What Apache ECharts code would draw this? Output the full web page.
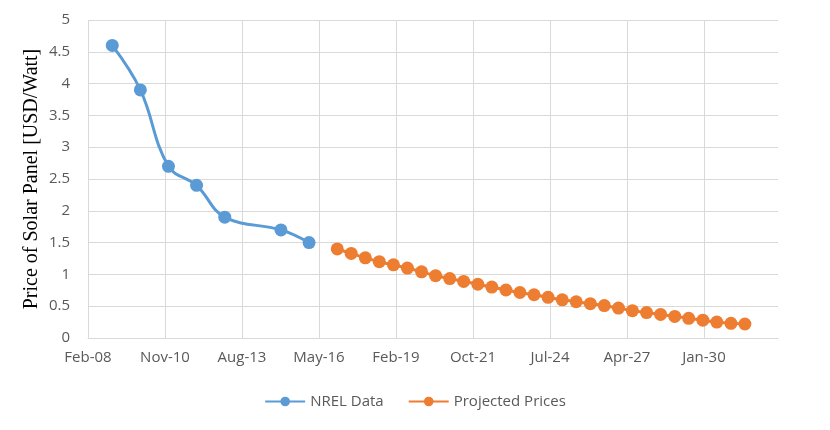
<!DOCTYPE html>
<html>
<head>
<meta charset="utf-8">
<script src="https://cdn.jsdelivr.net/npm/echarts@6/dist/echarts.min.js"></script>
<style>html,body{margin:0;padding:0;background:#fff}#c{width:830px;height:430px}</style>
</head>
<body>
<div id="c"></div>
<script>
// Axis origin (Excel-style date axis starting 21 Feb 2008, major unit 1000 days)
const axisStart = '2008-02-21';
const axisSpanDays = 8961;
const axisStepDays = 1000;

const nrelDates = ['2009-01-01','2010-01-01','2011-01-01','2012-01-01','2013-01-01','2015-01-01','2016-01-01'];
const nrelValues = [4.6, 3.9, 2.7, 2.4, 1.9, 1.7, 1.5];

const projDates = [
  '2017-01-01','2017-07-01','2018-01-01','2018-07-01','2019-01-01','2019-07-01',
  '2020-01-01','2020-07-01','2021-01-01','2021-07-01','2022-01-01','2022-07-01',
  '2023-01-01','2023-07-01','2024-01-01','2024-07-01','2025-01-01','2025-07-01',
  '2026-01-01','2026-07-01','2027-01-01','2027-07-01','2028-01-01','2028-07-01',
  '2029-01-01','2029-07-01','2030-01-01','2030-07-01','2031-01-01','2031-07-01'
];
const projValues = [
  1.40, 1.33, 1.26, 1.20, 1.15, 1.10,
  1.04, 0.98, 0.935, 0.89, 0.845, 0.80,
  0.755, 0.715, 0.68, 0.64, 0.60, 0.57,
  0.54, 0.51, 0.47, 0.43, 0.40, 0.37,
  0.34, 0.31, 0.28, 0.25, 0.23, 0.22
];

const yTicks = {min: 0, max: 5, step: 0.5};
const months = ['Jan','Feb','Mar','Apr','May','Jun','Jul','Aug','Sep','Oct','Nov','Dec'];

const DAY = 86400000;
const base = Date.parse(axisStart + 'T00:00:00Z');
const toDays = s => Math.round((Date.parse(s + 'T00:00:00Z') - base) / DAY);
const fmt = v => {
  const d = new Date(base + v * DAY);
  return months[d.getUTCMonth()] + '-' + String(d.getUTCFullYear() % 100).padStart(2, '0');
};

const chart = echarts.init(document.getElementById('c'), null, {renderer: 'canvas'});
const grey = '#595959';
const gridCol = '#D9D9D9';
chart.setOption({
  animation: false,
  backgroundColor: '#fff',
  grid: {left: 88, right: 52, top: 20, bottom: 92},
  xAxis: {
    type: 'value',
    min: 0, max: axisSpanDays, interval: axisStepDays,
    axisLine: {show: true, lineStyle: {color: gridCol, width: 1}},
    axisTick: {show: false},
    splitLine: {show: true, showMaxLine: false, lineStyle: {color: gridCol, width: 1}},
    axisLabel: {formatter: fmt, showMaxLabel: false, color: grey, fontFamily: 'Open Sans', fontSize: 15, margin: 12}
  },
  yAxis: {
    type: 'value',
    min: yTicks.min, max: yTicks.max, interval: yTicks.step,
    name: 'Price of Solar Panel [USD/Watt]',
    nameLocation: 'middle',
    nameGap: 46,
    nameMoveOverlap: false,
    nameTextStyle: {fontFamily: 'Liberation Serif', fontSize: 20, color: '#000'},
    axisLine: {show: false},
    axisTick: {show: false},
    splitLine: {show: true, lineStyle: {color: gridCol, width: 1}},
    axisLabel: {color: grey, fontFamily: 'Open Sans', fontSize: 15, margin: 18}
  },
  legend: {
    left: 'center', top: 389,
    itemWidth: 40, itemHeight: 12, itemGap: 24,
    textStyle: {fontFamily: 'Open Sans', fontSize: 15, color: grey},
    data: ['NREL Data', 'Projected Prices']
  },
  series: [
    {
      name: 'NREL Data', type: 'line', smooth: 0.4,
      data: nrelDates.map((d, i) => [toDays(d), nrelValues[i]]),
      symbol: 'circle', symbolSize: 13,
      lineStyle: {color: '#5B9BD5', width: 3},
      itemStyle: {color: '#5B9BD5', borderWidth: 0}
    },
    {
      name: 'Projected Prices', type: 'line', smooth: 0.4,
      data: projDates.map((d, i) => [toDays(d), projValues[i]]),
      symbol: 'circle', symbolSize: 13,
      lineStyle: {color: '#ED7D31', width: 3},
      itemStyle: {color: '#ED7D31', borderWidth: 0}
    }
  ]
});
</script>
</body>
</html>
